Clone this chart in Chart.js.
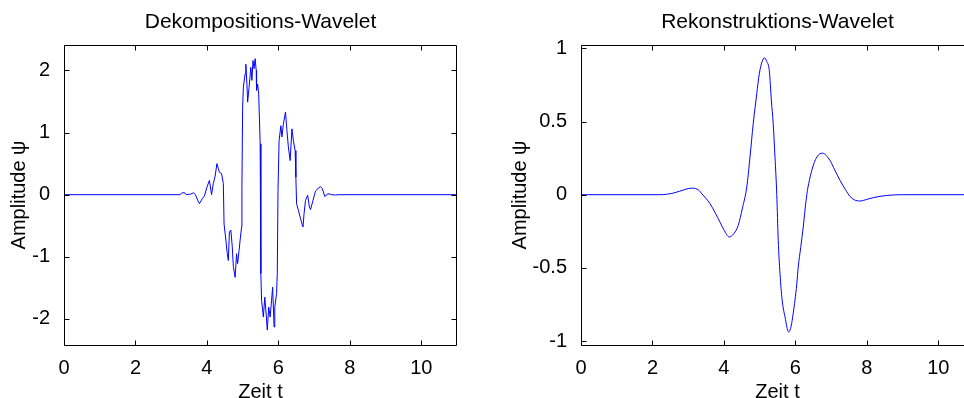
<!DOCTYPE html>
<html>
<head>
<meta charset="utf-8">
<script src="https://cdn.jsdelivr.net/npm/chart.js@4.4.1/dist/chart.umd.min.js"></script>
<style>
  html, body { margin: 0; padding: 0; background: #fff; overflow: hidden; }
  body { width: 964px; height: 398px; position: relative; }
  .box { position: absolute; top: 0; height: 398px; }
  #boxL { left: 0; width: 480px; }
  #boxR { left: 500px; width: 480px; }
</style>
</head>
<body>
<div class="box" id="boxL"><canvas id="left"></canvas></div>
<div class="box" id="boxR"><canvas id="right"></canvas></div>
<script>
// values
const xTicks = [0, 2, 4, 6, 8, 10];
const leftYTicks = [-2, -1, 0, 1, 2];
const rightYTicks = [-1, -0.5, 0, 0.5, 1];

const decompT = [0, 3.25, 3.3, 3.38, 3.42, 3.55, 3.62, 3.68, 3.75, 3.79, 3.87, 3.93, 4.0, 4.07, 4.13, 4.18, 4.23, 4.28, 4.32, 4.35, 4.41, 4.46,
  4.48, 4.53, 4.57, 4.6, 4.63, 4.67, 4.71, 4.74, 4.79, 4.83, 4.86, 4.9, 4.93, 4.97, 4.98, 5.0, 5.02, 5.07, 5.09, 5.12, 5.14, 5.18, 5.23,
  5.26, 5.29, 5.32, 5.35, 5.38, 5.39, 5.42, 5.45, 5.49, 5.51, 5.53, 5.58, 5.62, 5.65, 5.69, 5.73, 5.77, 5.81, 5.84, 5.88, 5.9, 5.95,
  5.97, 5.99, 6.02, 6.07, 6.1, 6.14, 6.2, 6.24, 6.28, 6.33, 6.38, 6.42, 6.47, 6.49, 6.51, 6.56, 6.61, 6.67, 6.69, 6.72, 6.76, 6.82,
  6.87, 6.9, 6.97, 7.04, 7.11, 7.18, 7.23, 7.3, 7.39, 7.49, 7.6, 7.7, 11];
const decompPsi = [0, 0, 0.03, 0.03, 0, 0.01, 0.03, 0, -0.1, -0.145, -0.065, -0.02, 0.12, 0.23, 0, 0.18, 0.3, 0.5, 0.42, 0.36, 0.34, 0.18,
  -0.47, -0.73, -0.95, -1.06, -0.6, -0.57, -0.84, -1.16, -1.33, -0.95, -1.11, -0.9, -0.73, -0.52, 0.12, 1.41, 1.73, 1.95, 2.1, 1.78, 1.49, 1.73, 2.05,
  1.84, 2.16, 2.03, 2.19, 2.0, 1.68, 1.78, 1.62, 0.82, -1.27, -1.7, -1.97, -1.65, -1.86, -2.18, -1.81, -1.97, -1.7, -1.49, -2.13, -1.81, -1.59,
  -1.27, 0.07, 0.87, 1.11, 0.93, 1.14, 1.33, 1.03, 0.77, 0.55, 1.06, 0.87, 0.71, 0.28, -0.145, -0.25, -0.36, -0.49, -0.52, -0.3, -0.09, -0.01,
  -0.2, -0.24, -0.09, 0.06, 0.1, 0.13, 0.1, -0.03, 0.016, 0, -0.005, 0, 0];

const reconT = [0, 2.2, 2.6, 2.9, 3.1, 3.3, 3.38, 3.61, 3.89, 4.0, 4.15, 4.28, 4.4, 4.52, 4.64, 4.73, 4.82, 4.92, 4.99, 5.07, 5.13, 5.2,
  5.27, 5.33, 5.38, 5.43, 5.48, 5.52, 5.57, 5.63, 5.71, 5.81, 5.88, 5.94, 6.04, 6.08, 6.15, 6.22, 6.32, 6.46, 6.6, 6.76, 6.97, 7.1,
  7.25, 7.4, 7.53, 7.65, 7.81, 8.0, 8.18, 8.56, 9.0, 11];
const reconPsi = [0, 0, 0.012, 0.035, 0.045, 0.03, 0.007, -0.061, -0.187, -0.24, -0.289, -0.265, -0.21, -0.09, 0.052, 0.257, 0.485, 0.69, 0.826, 0.91, 0.935, 0.91,
  0.848, 0.64, 0.485, 0.257, 0, -0.31, -0.54, -0.72, -0.835, -0.938, -0.9, -0.81, -0.61, -0.494, -0.36, -0.221, 0, 0.166, 0.257, 0.284, 0.234, 0.17,
  0.098, 0.035, -0.012, -0.035, -0.043, -0.032, -0.02, -0.005, 0, 0];

Chart.defaults.font.family = "'Liberation Sans', Arial, Helvetica, sans-serif";
Chart.defaults.font.size = 20;
Chart.defaults.color = '#000';

// MATLAB-style box with inward ticks on all four sides
const boxTicks = {
  id: 'boxTicks',
  afterDraw(chart) {
    const { ctx, chartArea: a, scales: { x, y } } = chart;
    const L = Math.round(a.left) + 0.5, R = Math.round(a.right) - 0.5;
    const T = Math.round(a.top) + 0.5, B = Math.round(a.bottom) + 0.5;
    ctx.save();
    ctx.strokeStyle = '#000';
    ctx.lineWidth = 1;
    ctx.beginPath();
    ctx.rect(L, T, R - L, B - T);
    x.ticks.forEach(t => {
      const px = Math.round(x.getPixelForValue(t.value)) + 0.5;
      ctx.moveTo(px, B); ctx.lineTo(px, B - 5);
      ctx.moveTo(px, T); ctx.lineTo(px, T + 5);
    });
    y.ticks.forEach(t => {
      const py = Math.round(y.getPixelForValue(t.value)) + 0.5;
      ctx.moveTo(L, py); ctx.lineTo(L + 5, py);
      ctx.moveTo(R, py); ctx.lineTo(R - 5, py);
    });
    ctx.stroke();
    ctx.restore();
  }
};

function makeChart(id, title, ts, vals, yMin, yMax, yTicks, yWidth, yTitlePad, padRight, smooth) {
  return new Chart(document.getElementById(id), {
    type: 'scatter',
    data: {
      datasets: [{
        data: ts.map((t, i) => ({ x: t, y: vals[i] })),
        showLine: true,
        borderColor: '#0000ff',
        borderWidth: 1,
        pointRadius: 0,
        fill: false,
        tension: smooth ? 0.4 : 0,
        cubicInterpolationMode: smooth ? 'monotone' : 'default'
      }]
    },
    options: {
      responsive: true,
      maintainAspectRatio: false,
      animation: false,
      events: [],
      layout: { padding: { top: 0, left: 0, bottom: 0, right: padRight } },
      plugins: {
        legend: { display: false },
        tooltip: { enabled: false },
        title: {
          display: true,
          text: title,
          fullSize: false,
          font: { size: 21, weight: 'normal' },
          padding: { top: 9.5, bottom: 10.3 }
        }
      },
      scales: {
        x: {
          type: 'linear',
          min: 0, max: 11,
          grid: { display: false },
          border: { display: false },
          ticks: { padding: 3 },
          afterBuildTicks: s => { s.ticks = xTicks.map(v => ({ value: v })); },
          afterFit: s => { s.height = 53; },
          title: { display: true, text: 'Zeit t', font: { size: 20 }, padding: { top: 0, bottom: -6 } }
        },
        y: {
          type: 'linear',
          min: yMin, max: yMax,
          grid: { display: false },
          border: { display: false },
          ticks: { padding: 6, callback: v => String(v) },
          afterBuildTicks: s => { s.ticks = yTicks.map(v => ({ value: v })); },
          afterFit: s => { s.width = yWidth; },
          title: { display: true, text: 'Amplitude \u03c8', font: { size: 20 }, padding: { top: yTitlePad, bottom: 0 } }
        }
      }
    },
    plugins: [boxTicks]
  });
}

makeChart('left', 'Dekompositions-Wavelet', decompT, decompPsi, -2.42, 2.41, leftYTicks, 64, 7, 23, false);
makeChart('right', 'Rekonstruktions-Wavelet', reconT, reconPsi, -1.027, 1.023, rightYTicks, 81, 8, 6, true);
</script>
</body>
</html>
